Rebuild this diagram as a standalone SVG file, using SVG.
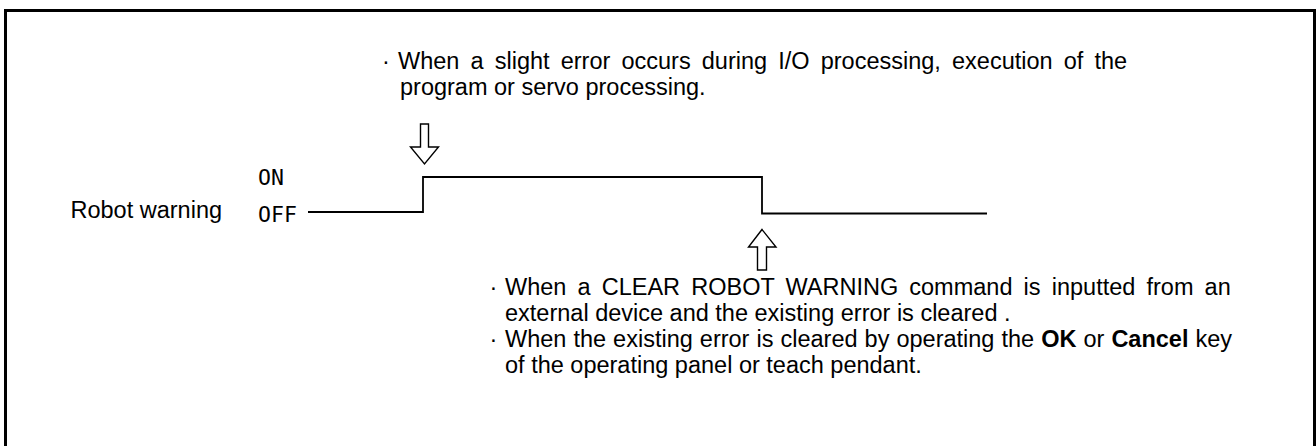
<svg xmlns="http://www.w3.org/2000/svg" width="1316" height="446" viewBox="0 0 1316 446">
<style>
.t{font-family:"Liberation Sans",Arial,sans-serif;font-size:23.5px;fill:#000}
.m{font-family:"DejaVu Sans Mono","Liberation Mono",monospace;font-size:21.5px;fill:#000}
.sig{fill:none;stroke:#000;stroke-width:1.8}
.arr{fill:#fff;stroke:#000;stroke-width:1.4;stroke-linejoin:miter}
.b{font-weight:bold}
</style>
<rect width="1316" height="446" fill="#fff"/>
<g id="frame"><path d="M5.5,446 V10.5 H1314.5 V446" fill="none" stroke="#000" stroke-width="3"/></g>
<g id="label-robot-warning"><text class="t" x="70.5" y="217.5">Robot warning</text></g>
<g id="levels">
<text class="m" x="258" y="185">ON</text>
<text class="m" x="258" y="222">OFF</text>
</g>
<g id="connectors">
<path id="signal" class="sig" d="M308,212 H423 V177 H762 V213.5 H987"/>
<polygon id="arrow-on" class="arr" points="420.5,124 428.5,124 428.5,147 438.5,147 424.5,164 410.5,147 420.5,147"/>
<polygon id="arrow-off" class="arr" points="757.5,270 766.5,270 766.5,247 776,247 762,229.5 748.5,247 757.5,247"/>
</g>
<g id="note-on">
<text class="t" x="382" y="68.5">·</text>
<text class="t" x="398" y="68.5" word-spacing="4.6">When a slight error occurs during I/O processing, execution of the</text>
<text class="t" x="400" y="95">program or servo processing.</text>
</g>
<g id="note-off">
<text class="t" x="489.5" y="294.5">·</text>
<text class="t" x="505" y="294.5" word-spacing="4.6">When a CLEAR ROBOT WARNING command is inputted from an</text>
<text class="t" x="505" y="320.5">external device and the existing error is cleared .</text>
<text class="t" x="489.5" y="346.5">·</text>
<text class="t" x="505" y="346.5" word-spacing="0.5">When the existing error is cleared by operating the <tspan class="b">OK</tspan> or <tspan class="b">Cancel</tspan> key</text>
<text class="t" x="505" y="372.5">of the operating panel or teach pendant.</text>
</g>
</svg>
